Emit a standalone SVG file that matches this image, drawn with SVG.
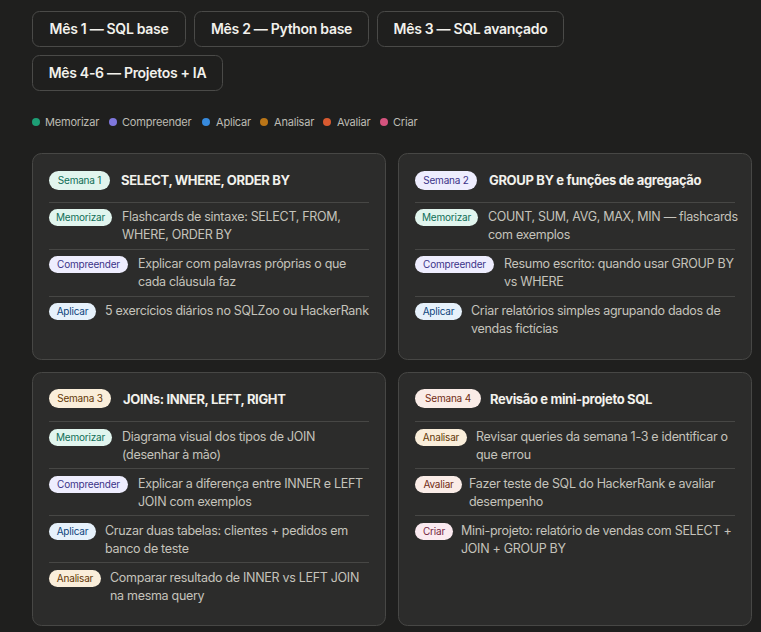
<svg xmlns="http://www.w3.org/2000/svg" width="761" height="632" viewBox="0 0 761 632">
<style>
text{font-family:Inter,"Noto Sans",sans-serif}
.btn{fill:#1f1f1e;stroke:#4a4a48;stroke-width:1}
.bt{font-size:14px;font-weight:600;fill:#f2f1ec;text-anchor:middle;letter-spacing:-0.3px}
.lg{font-size:11px;fill:#bdbbb3;letter-spacing:-0.2px}
.card{fill:#2c2c2b;stroke:#474745;stroke-width:1}
.ti{font-size:13px;font-weight:700;fill:#f2f1ec;letter-spacing:-0.35px}
.tx{font-size:12.5px;fill:#c5c3bb;letter-spacing:-0.3px}
.dv{stroke:#474745;stroke-width:1}
.bd{font-size:10px;text-anchor:middle;letter-spacing:-0.2px}
.mem{fill:#e1f5ee}.memt{fill:#0f6e56}
.com{fill:#eeedfe}.comt{fill:#3c3489}
.apl{fill:#e6f1fb}.aplt{fill:#0c447c}
.ana{fill:#faeeda}.anat{fill:#633806}
.ava{fill:#faece7}.avat{fill:#712b13}
.cri{fill:#fbeaf0}.crit{fill:#72243e}
</style>
<rect width="761" height="632" fill="#1f1f1e"/>
<g id="months">
<rect class="btn" x="32.5" y="11.5" width="153" height="35" rx="7"/><text class="bt" x="109" y="34">Mês 1 — SQL base</text>
<rect class="btn" x="194.5" y="11.5" width="174" height="35" rx="7"/><text class="bt" x="281.5" y="34">Mês 2 — Python base</text>
<rect class="btn" x="377.5" y="11.5" width="186" height="35" rx="7"/><text class="bt" x="470.5" y="34">Mês 3 — SQL avançado</text>
<rect class="btn" x="32.5" y="55.5" width="190" height="35" rx="7"/><text class="bt" x="127.5" y="78">Mês 4-6 — Projetos + IA</text>
</g>
<g id="legend">
<circle cx="36" cy="122" r="4" fill="#1d9e75"/><text class="lg" x="45" y="126">Memorizar</text>
<circle cx="113" cy="122" r="4" fill="#7f77dd"/><text class="lg" x="122" y="126">Compreender</text>
<circle cx="206" cy="122" r="4" fill="#378add"/><text class="lg" x="216" y="126">Aplicar</text>
<circle cx="264" cy="122" r="4" fill="#ba7517"/><text class="lg" x="274" y="126">Analisar</text>
<circle cx="327" cy="122" r="4" fill="#d85a30"/><text class="lg" x="337" y="126">Avaliar</text>
<circle cx="384" cy="122" r="4" fill="#d4537e"/><text class="lg" x="393" y="126">Criar</text>
</g>
<g id="semana1">
<rect class="card" x="32.5" y="153.5" width="353" height="206" rx="9"/>
<rect class="mem" x="49" y="171" width="61" height="19" rx="9.5"/><text class="bd memt" x="79.5" y="184" font-size="11">Semana 1</text>
<text class="ti" x="121" y="185">SELECT, WHERE, ORDER BY</text>
<line class="dv" x1="49" y1="202.5" x2="369" y2="202.5"/>
<rect class="mem" x="49" y="209" width="63" height="17" rx="8.5"/><text class="bd memt" x="80.5" y="221">Memorizar</text>
<text class="tx" x="122" y="221">Flashcards de sintaxe: SELECT, FROM,</text><text class="tx" x="122" y="239">WHERE, ORDER BY</text>
<line class="dv" x1="49" y1="249.5" x2="369" y2="249.5"/>
<rect class="com" x="49" y="256" width="79" height="17" rx="8.5"/><text class="bd comt" x="88.5" y="268">Compreender</text>
<text class="tx" x="138" y="268">Explicar com palavras próprias o que</text><text class="tx" x="138" y="286">cada cláusula faz</text>
<line class="dv" x1="49" y1="296.5" x2="369" y2="296.5"/>
<rect class="apl" x="49" y="303" width="47" height="17" rx="8.5"/><text class="bd aplt" x="72.5" y="315">Aplicar</text>
<text class="tx" x="105" y="315">5 exercícios diários no SQLZoo ou HackerRank</text>
</g>
<g id="semana2">
<rect class="card" x="398.5" y="153.5" width="353" height="206" rx="9"/>
<rect class="com" x="415" y="171" width="62" height="19" rx="9.5"/><text class="bd comt" x="446" y="184" font-size="11">Semana 2</text>
<text class="ti" x="489" y="185">GROUP BY e funções de agregação</text>
<line class="dv" x1="415" y1="202.5" x2="735" y2="202.5"/>
<rect class="mem" x="415" y="209" width="63" height="17" rx="8.5"/><text class="bd memt" x="446.5" y="221">Memorizar</text>
<text class="tx" x="488" y="221">COUNT, SUM, AVG, MAX, MIN — flashcards</text><text class="tx" x="488" y="239">com exemplos</text>
<line class="dv" x1="415" y1="249.5" x2="735" y2="249.5"/>
<rect class="com" x="415" y="256" width="79" height="17" rx="8.5"/><text class="bd comt" x="454.5" y="268">Compreender</text>
<text class="tx" x="504" y="268">Resumo escrito: quando usar GROUP BY</text><text class="tx" x="504" y="286">vs WHERE</text>
<line class="dv" x1="415" y1="296.5" x2="735" y2="296.5"/>
<rect class="apl" x="415" y="303" width="47" height="17" rx="8.5"/><text class="bd aplt" x="438.5" y="315">Aplicar</text>
<text class="tx" x="471" y="315">Criar relatórios simples agrupando dados de</text><text class="tx" x="471" y="333">vendas fictícias</text>
</g>
<g id="semana3">
<rect class="card" x="32.5" y="372.5" width="353" height="253" rx="9"/>
<rect class="ana" x="49" y="389" width="62" height="19" rx="9.5"/><text class="bd anat" x="80" y="402" font-size="11">Semana 3</text>
<text class="ti" x="123" y="404">JOINs: INNER, LEFT, RIGHT</text>
<line class="dv" x1="49" y1="421.5" x2="369" y2="421.5"/>
<rect class="mem" x="49" y="429" width="63" height="17" rx="8.5"/><text class="bd memt" x="80.5" y="441">Memorizar</text>
<text class="tx" x="122" y="441">Diagrama visual dos tipos de JOIN</text><text class="tx" x="122" y="459">(desenhar à mão)</text>
<line class="dv" x1="49" y1="468.5" x2="369" y2="468.5"/>
<rect class="com" x="49" y="476" width="79" height="17" rx="8.5"/><text class="bd comt" x="88.5" y="488">Compreender</text>
<text class="tx" x="138" y="488">Explicar a diferença entre INNER e LEFT</text><text class="tx" x="138" y="506">JOIN com exemplos</text>
<line class="dv" x1="49" y1="515.5" x2="369" y2="515.5"/>
<rect class="apl" x="49" y="523" width="47" height="17" rx="8.5"/><text class="bd aplt" x="72.5" y="535">Aplicar</text>
<text class="tx" x="105" y="535">Cruzar duas tabelas: clientes + pedidos em</text><text class="tx" x="105" y="553">banco de teste</text>
<line class="dv" x1="49" y1="562.5" x2="369" y2="562.5"/>
<rect class="ana" x="49" y="570" width="52" height="17" rx="8.5"/><text class="bd anat" x="75" y="582">Analisar</text>
<text class="tx" x="110" y="582">Comparar resultado de INNER vs LEFT JOIN</text><text class="tx" x="110" y="600">na mesma query</text>
</g>
<g id="semana4">
<rect class="card" x="398.5" y="372.5" width="353" height="253" rx="9"/>
<rect class="ava" x="415" y="389" width="66" height="19" rx="9.5"/><text class="bd avat" x="448" y="402" font-size="11">Semana 4</text>
<text class="ti" x="490" y="404">Revisão e mini-projeto SQL</text>
<line class="dv" x1="415" y1="421.5" x2="735" y2="421.5"/>
<rect class="ana" x="415" y="429" width="52" height="17" rx="8.5"/><text class="bd anat" x="441" y="441">Analisar</text>
<text class="tx" x="476" y="441">Revisar queries da semana 1-3 e identificar o</text><text class="tx" x="476" y="459">que errou</text>
<line class="dv" x1="415" y1="468.5" x2="735" y2="468.5"/>
<rect class="ava" x="415" y="476" width="47" height="17" rx="8.5"/><text class="bd avat" x="438.5" y="488">Avaliar</text>
<text class="tx" x="469" y="488">Fazer teste de SQL do HackerRank e avaliar</text><text class="tx" x="469" y="506">desempenho</text>
<line class="dv" x1="415" y1="515.5" x2="735" y2="515.5"/>
<rect class="cri" x="415" y="523" width="38" height="17" rx="8.5"/><text class="bd crit" x="434" y="535">Criar</text>
<text class="tx" x="461" y="535">Mini-projeto: relatório de vendas com SELECT +</text><text class="tx" x="461" y="553">JOIN + GROUP BY</text>
</g>
</svg>
